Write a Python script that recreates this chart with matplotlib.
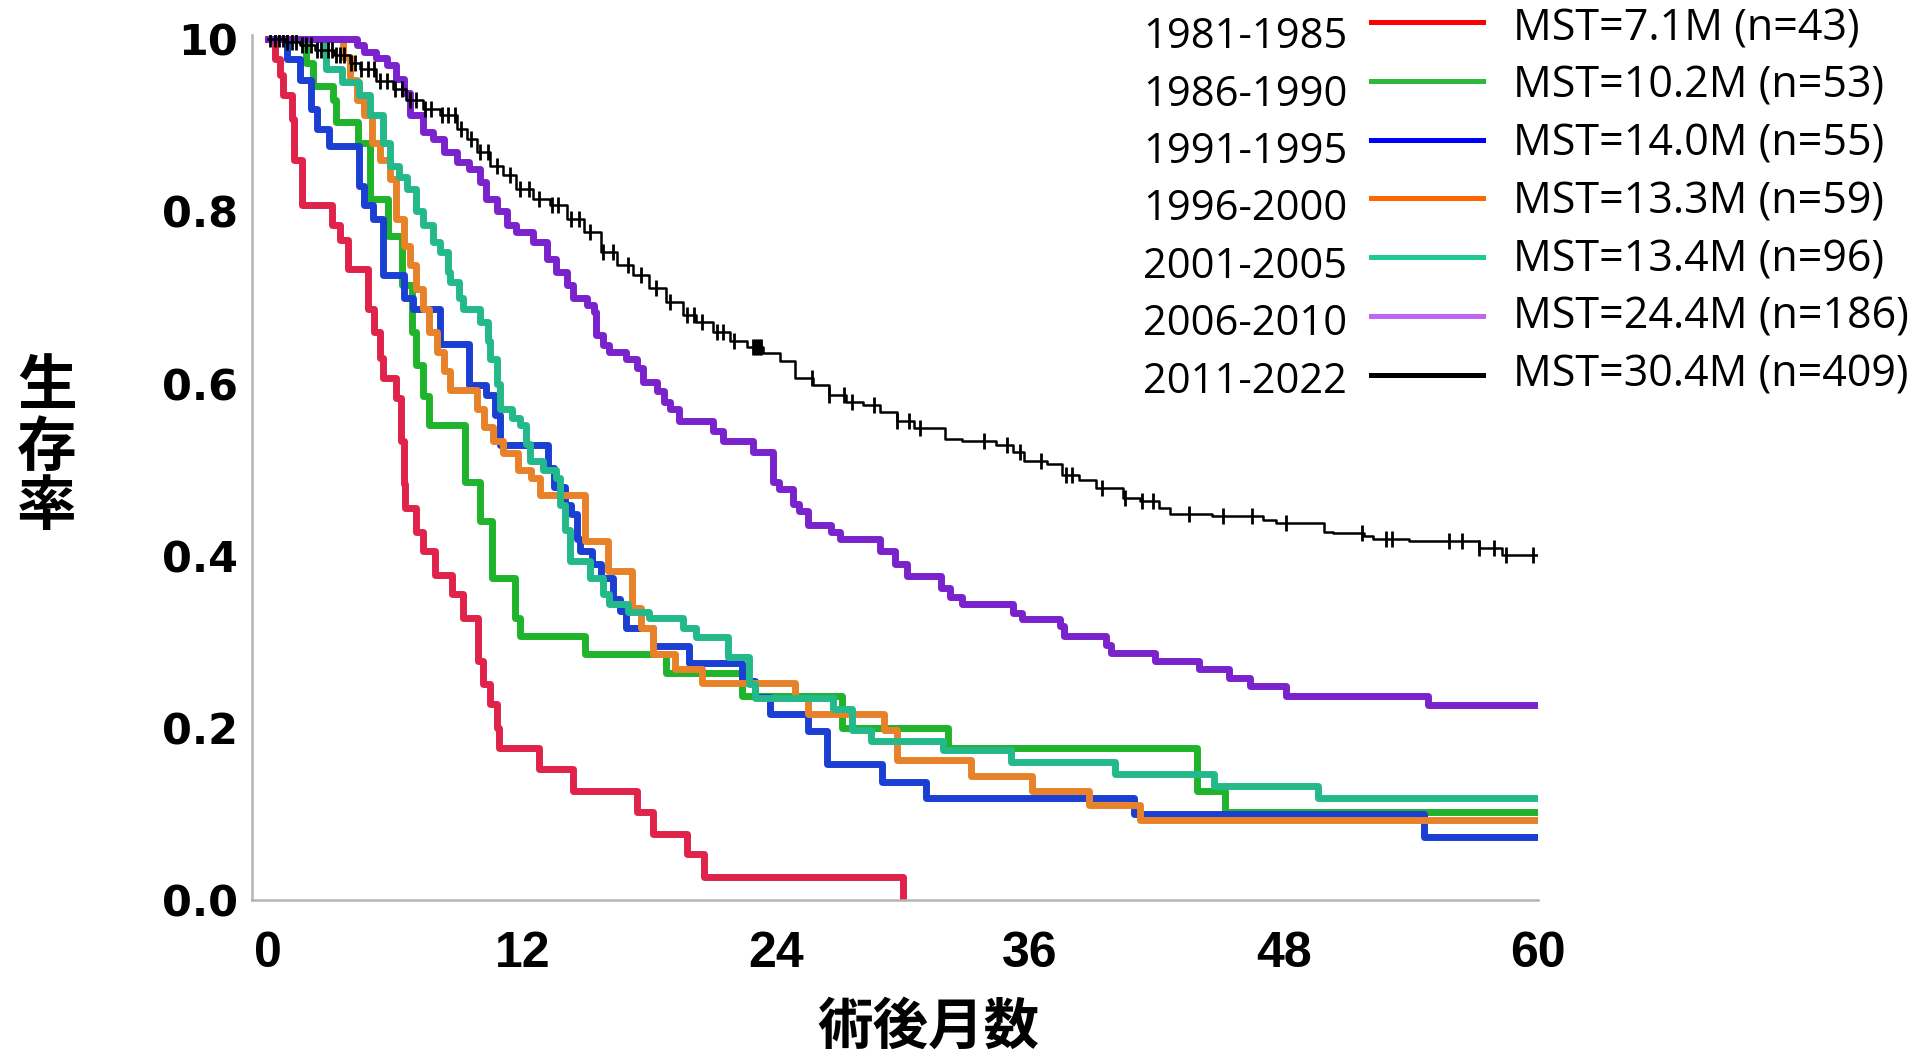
import matplotlib
matplotlib.use("Agg")
import matplotlib.pyplot as plt
from matplotlib.lines import Line2D
import numpy as np

plt.rcParams['font.family'] = ['Noto Sans CJK JP', 'DejaVu Sans']

# survival curves (months after surgery, survival rate)
red_t = [0, 0.3, 0.55, 0.7, 1.1, 1.2, 1.6, 3.0, 3.4, 3.75, 4.7, 5.0, 5.3, 5.4, 6.05, 6.25, 6.4, 6.45,
         7.0, 7.3, 7.9, 8.7, 9.2, 9.9, 10.15, 10.5, 10.8, 10.9, 12.8, 14.4, 17.4, 18.2, 19.8, 20.6, 30.0]
red_s = [1.0, 0.977, 0.958, 0.935, 0.907, 0.86, 0.807, 0.784, 0.767, 0.733, 0.687, 0.66, 0.63, 0.606, 0.583,
         0.533, 0.483, 0.455, 0.428, 0.405, 0.378, 0.355, 0.328, 0.278, 0.251, 0.228, 0.2, 0.177, 0.152, 0.127,
         0.102, 0.077, 0.053, 0.027, 0.0]

green_t = [0, 1.8, 2.1, 3.05, 3.2, 4.25, 4.8, 5.65, 6.3, 6.8, 7.0, 7.3, 7.6, 9.3, 10.0, 10.55, 11.65, 11.9,
           14.95, 18.8, 22.4, 27.1, 32.1, 43.9, 45.2, 60]
green_s = [1.0, 0.973, 0.946, 0.93, 0.904, 0.88, 0.815, 0.772, 0.714, 0.66, 0.622, 0.585, 0.552, 0.486, 0.44,
           0.374, 0.328, 0.307, 0.286, 0.264, 0.237, 0.2, 0.177, 0.127, 0.102, 0.102]

blue_t = [0, 0.9, 1.5, 2.0, 2.3, 2.85, 4.3, 4.5, 4.95, 5.4, 6.4, 6.85, 8.1, 9.5, 10.3, 10.7, 10.95, 13.2,
          13.5, 14.0, 14.3, 14.6, 14.75, 15.3, 15.7, 16.3, 16.6, 16.9, 18.2, 19.9, 22.4, 23.0, 23.7, 25.5,
          26.4, 29.0, 31.1, 40.9, 54.6, 60]
blue_s = [1.0, 0.977, 0.953, 0.919, 0.896, 0.876, 0.83, 0.807, 0.791, 0.726, 0.7, 0.687, 0.646, 0.598, 0.587,
          0.564, 0.529, 0.502, 0.48, 0.459, 0.448, 0.42, 0.405, 0.39, 0.374, 0.35, 0.336, 0.316, 0.295, 0.275,
          0.255, 0.236, 0.216, 0.196, 0.158, 0.137, 0.118, 0.1, 0.073, 0.073]

orange_t = [0, 3.55, 3.85, 4.2, 4.5, 4.9, 5.3, 5.75, 6.05, 6.4, 6.7, 7.0, 7.3, 7.6, 7.95, 8.3, 8.6, 9.85,
            10.2, 10.6, 11.1, 11.8, 12.4, 12.85, 13.2, 14.95, 16.05, 17.2, 17.6, 18.2, 19.2, 20.5, 24.9, 25.5,
            29.1, 29.7, 33.2, 36.1, 38.8, 41.2, 60]
orange_s = [1.0, 0.98, 0.953, 0.93, 0.912, 0.88, 0.86, 0.838, 0.791, 0.76, 0.738, 0.71, 0.687, 0.66, 0.637,
            0.615, 0.592, 0.57, 0.55, 0.533, 0.519, 0.5, 0.49, 0.471, 0.471, 0.417, 0.382, 0.339, 0.316, 0.286,
            0.268, 0.252, 0.235, 0.216, 0.197, 0.163, 0.144, 0.127, 0.11, 0.093, 0.093]

teal_t = [0, 2.75, 3.5, 4.3, 4.8, 5.4, 5.75, 6.2, 6.55, 7.0, 7.3, 7.8, 8.1, 8.5, 8.6, 9.0, 9.2, 10.0, 10.4,
          10.5, 10.8, 10.95, 11.5, 11.9, 12.2, 12.35, 13.0, 13.6, 13.8, 14.0, 14.25, 15.2, 15.8, 16.1, 17.0,
          18.0, 19.6, 20.2, 21.7, 22.7, 23.0, 26.7, 27.6, 28.5, 31.9, 35.1, 40.0, 44.7, 49.6, 60]
teal_s = [1.0, 0.965, 0.95, 0.935, 0.912, 0.88, 0.853, 0.84, 0.826, 0.8, 0.784, 0.765, 0.753, 0.73, 0.718,
          0.7, 0.687, 0.672, 0.65, 0.629, 0.6, 0.571, 0.56, 0.552, 0.53, 0.51, 0.5, 0.49, 0.459, 0.43, 0.394,
          0.374, 0.355, 0.344, 0.335, 0.328, 0.316, 0.305, 0.282, 0.251, 0.235, 0.222, 0.197, 0.185, 0.174,
          0.16, 0.146, 0.133, 0.118, 0.118]

purple_t = [0, 4.2, 4.5, 5.1, 5.6, 6.05, 6.4, 6.7, 7.3, 7.8, 8.3, 8.9, 9.5, 10.0, 10.3, 10.8, 11.3, 11.7,
            12.5, 13.15, 13.6, 14.1, 14.4, 15.05, 15.4, 15.5, 15.8, 16.1, 16.9, 17.4, 17.7, 18.35, 18.7, 19.0,
            19.4, 21.0, 21.5, 22.9, 23.85, 24.15, 24.8, 25.1, 25.5, 26.6, 27.0, 28.9, 29.6, 30.2, 31.8, 32.2,
            32.8, 35.2, 35.6, 37.4, 37.6, 39.6, 39.8, 41.9, 44.0, 45.4, 46.4, 48.1, 54.8, 60]
purple_s = [1.0, 0.993, 0.985, 0.978, 0.97, 0.954, 0.938, 0.912, 0.892, 0.884, 0.869, 0.857, 0.849, 0.834,
            0.815, 0.8, 0.784, 0.776, 0.765, 0.745, 0.73, 0.715, 0.699, 0.691, 0.683, 0.657, 0.645, 0.637,
            0.629, 0.618, 0.602, 0.591, 0.579, 0.571, 0.556, 0.545, 0.533, 0.521, 0.486, 0.477, 0.46, 0.452,
            0.436, 0.428, 0.42, 0.405, 0.39, 0.376, 0.362, 0.352, 0.344, 0.333, 0.326, 0.318, 0.307, 0.296,
            0.287, 0.278, 0.268, 0.258, 0.249, 0.237, 0.226, 0.226]

black_t = [0, 0.8, 1.5, 2.2, 3.1, 3.85, 4.35, 5.1, 5.9, 6.5, 7.3, 8.1, 8.9, 9.4, 9.85, 10.5, 11.1, 11.7,
           12.5, 13.3, 14.1, 14.9, 15.7, 16.5, 17.25, 18.0, 18.8, 19.6, 20.2, 21.0, 21.8, 22.6, 23.4, 24.2,
           24.9, 25.75, 26.5, 27.3, 28.1, 28.9, 29.7, 30.5, 32.0, 32.8, 34.4, 35.2, 35.7, 36.8, 37.5, 38.3,
           39.1, 40.4, 41.2, 42.1, 42.6, 44.6, 47.0, 47.6, 49.9, 50.3, 51.8, 52.2, 53.9, 57.2, 58.3, 60]
black_s = [1.0, 0.997, 0.993, 0.988, 0.982, 0.973, 0.965, 0.952, 0.942, 0.93, 0.919, 0.912, 0.896, 0.884,
           0.869, 0.853, 0.842, 0.826, 0.815, 0.807, 0.791, 0.776, 0.753, 0.738, 0.726, 0.711, 0.695, 0.68,
           0.672, 0.66, 0.649, 0.643, 0.635, 0.626, 0.606, 0.598, 0.587, 0.579, 0.575, 0.567, 0.556, 0.548,
           0.536, 0.533, 0.529, 0.521, 0.51, 0.506, 0.494, 0.488, 0.479, 0.467, 0.463, 0.455, 0.449, 0.446,
           0.442, 0.438, 0.428, 0.426, 0.423, 0.419, 0.417, 0.409, 0.401, 0.401]
black_censor = [0.1, 0.3, 0.5, 0.7, 0.9, 1.1, 1.3, 1.6, 1.8, 2.0, 2.3, 2.5, 2.8, 3.0, 3.2, 3.4, 3.6, 3.9,
                4.1, 4.4, 4.7, 5.0, 5.3, 5.6, 6.0, 6.3, 6.7, 7.0, 7.4, 7.7, 8.2, 8.5, 8.8, 9.1, 9.6, 10.0,
                10.4, 10.8, 11.4, 11.9, 12.3, 12.8, 13.4, 13.7, 14.3, 14.7, 15.2, 15.8, 16.3, 17.0, 17.6,
                18.3, 19.0, 19.8, 20.1, 20.5, 21.2, 21.5, 22.0, 22.9, 23.0, 23.1, 23.2, 23.3, 25.7, 26.5,
                27.2, 27.6, 28.6, 29.7, 30.3, 30.8, 33.8, 34.9, 35.5, 36.5, 37.7, 38.0, 39.4, 40.5, 41.3,
                41.8, 43.5, 45.1, 46.5, 48.1, 51.7, 52.8, 53.1, 55.8, 56.4, 57.2, 57.9, 58.5, 59.75]

curve_colors = ['#e0234b', '#1fb42c', '#1b3fd2', '#e8822a', '#24b98b', '#7a22cc']
legend_years = ['1981-1985', '1986-1990', '1991-1995', '1996-2000', '2001-2005', '2006-2010', '2011-2022']
legend_mst = ['MST=7.1M (n=43)', 'MST=10.2M (n=53)', 'MST=14.0M (n=55)', 'MST=13.3M (n=59)',
              'MST=13.4M (n=96)', 'MST=24.4M (n=186)', 'MST=30.4M (n=409)']
legend_colors = ['#ff0000', '#2dba3c', '#0000ff', '#ff6600', '#20c896', '#bf66f2', '#000000']

x_ticks = [0, 12, 24, 36, 48, 60]
y_ticks = [0.0, 0.2, 0.4, 0.6, 0.8, 1.0]
y_ticklabels = ['0.0', '0.2', '0.4', '0.6', '0.8', '10']

W, H = 1930, 1056
fig = plt.figure(figsize=(W / 100, H / 100), dpi=100)
ax = fig.add_axes([252 / W, 1 - 900 / H, (1538 - 252) / W, (900 - 35) / H])

series = [(red_t, red_s), (green_t, green_s), (blue_t, blue_s), (orange_t, orange_s),
          (teal_t, teal_s), (purple_t, purple_s)]
for (t, s), c in zip(series, curve_colors):
    ax.step(t, s, where='post', color=c, lw=5.0)

ax.step(black_t, black_s, where='post', color='black', lw=1.8)
bt = np.array(black_t)
bs = np.array(black_s)
idx = np.searchsorted(bt, black_censor, side='right') - 1
ax.plot(black_censor, bs[idx], ls='none', marker='|', ms=12, mew=2.0, color='black')

ax.set_xlim(-0.77, 60)
ax.set_ylim(0, 1.005)
for side in ['top', 'right']:
    ax.spines[side].set_visible(False)
for side in ['left', 'bottom']:
    ax.spines[side].set_color('#b4b4b4')
    ax.spines[side].set_linewidth(1.8)

ax.set_xticks(x_ticks)
ax.set_xticklabels([str(v) for v in x_ticks], family='Liberation Sans',
                   fontsize=36, fontweight='bold')
ax.set_yticks(y_ticks)
ax.set_yticklabels(y_ticklabels, family='DejaVu Sans', fontsize=31, fontweight='bold')
ax.tick_params(axis='both', length=0)
ax.tick_params(axis='x', pad=22)
ax.tick_params(axis='y', pad=10)


def fx(x):
    return x / W


def fy(y):
    return 1 - y / H


# axis titles
for ch, yc in zip(['生', '存', '率'], [387, 449, 508]):
    fig.text(fx(47), fy(yc), ch, ha='center', va='center', fontsize=43, fontweight='bold')
fig.text(fx(928), fy(1028), '術後月数', ha='center', va='center', fontsize=40, fontweight='bold')

# legend
for i in range(len(legend_years)):
    fig.text(fx(1143), fy(48 + 57.5 * i), legend_years[i], ha='left', va='baseline',
             family='Open Sans', fontsize=30)
    fig.text(fx(1513), fy(40 + 57.8 * i), legend_mst[i], ha='left', va='baseline',
             family='Open Sans', fontsize=31)
    ly = fy(22 + 58.8 * i)
    fig.add_artist(Line2D([fx(1371), fx(1483)], [ly, ly], color=legend_colors[i], lw=3.6))

fig.savefig('out.png', dpi=100)
